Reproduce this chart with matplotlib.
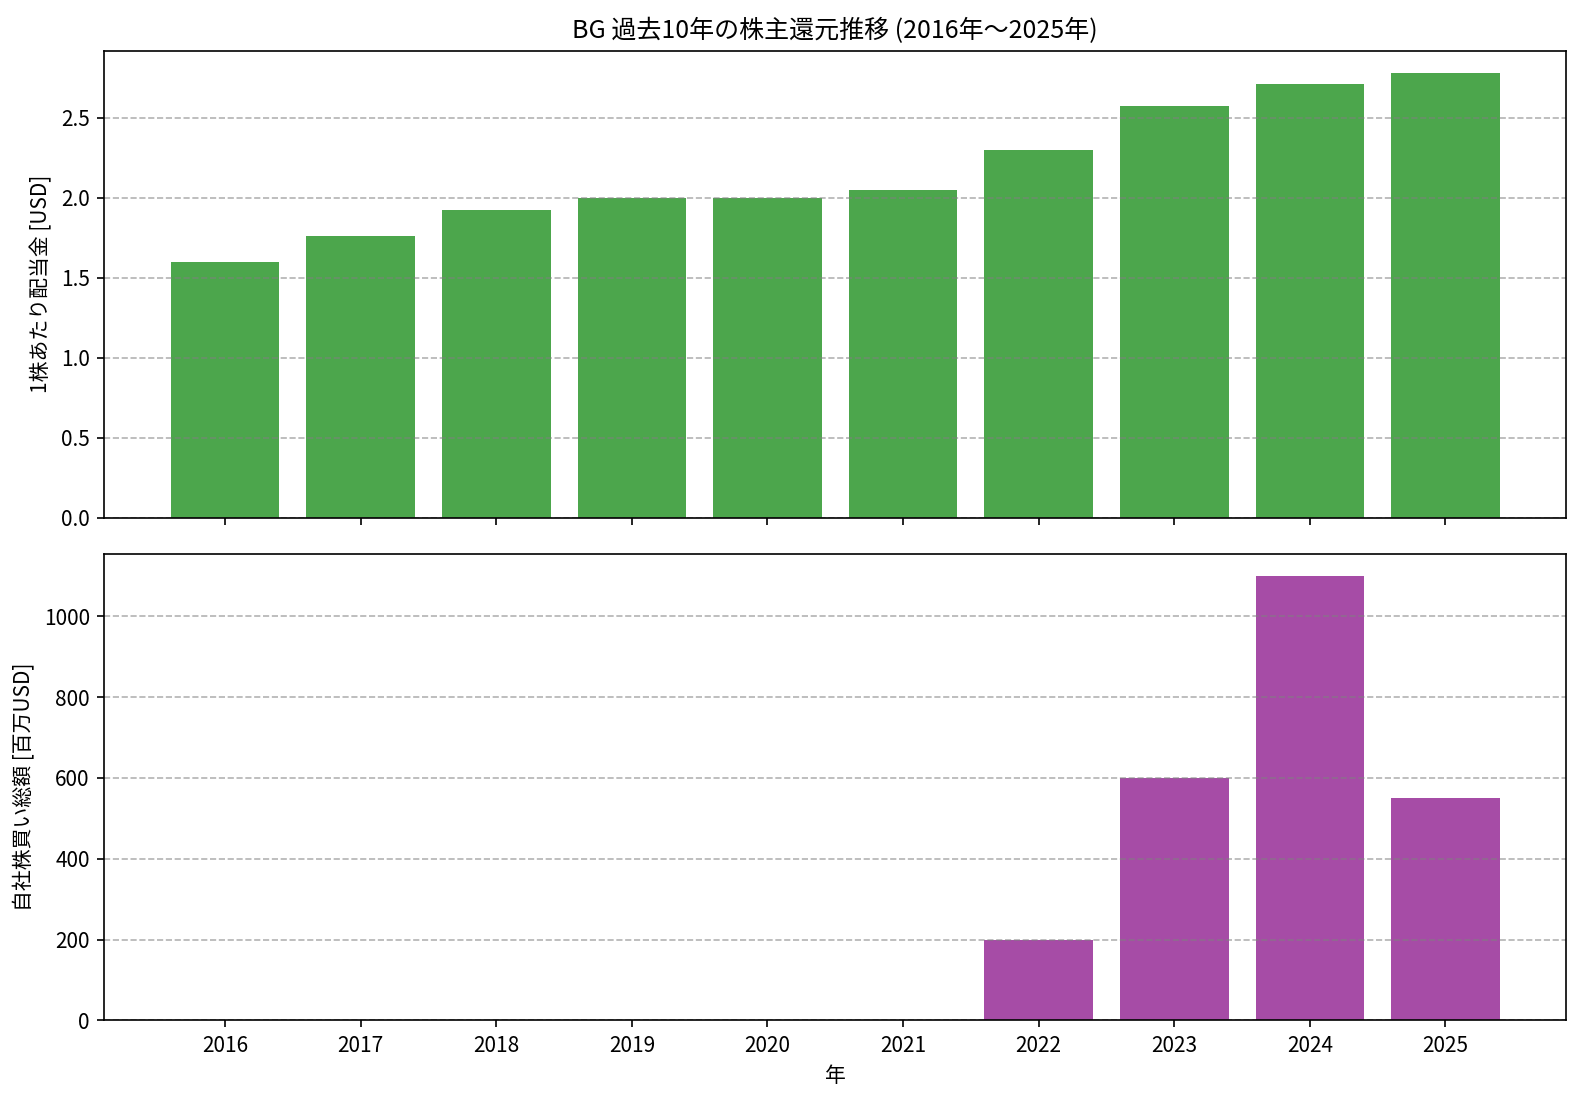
import matplotlib
matplotlib.use("Agg")
import matplotlib.pyplot as plt
import numpy as np

plt.rcParams["font.family"] = ["Noto Sans CJK JP", "DejaVu Sans"]

years = [2016, 2017, 2018, 2019, 2020, 2021, 2022, 2023, 2024, 2025]
dividends = [1.60, 1.76, 1.92, 2.00, 2.00, 2.05, 2.30, 2.575, 2.71, 2.78]
buybacks = [0, 0, 0, 0, 0, 0, 200, 600, 1100, 550]

fig, (ax1, ax2) = plt.subplots(2, 1, figsize=(1582 / 150, 1102 / 150), dpi=150, sharex=True)

ax1.bar(years, dividends, color="green", alpha=0.7)
ax1.set_ylabel("1株あたり配当金 [USD]")
ax1.set_title("BG 過去10年の株主還元推移 (2016年～2025年)", fontsize=12)
ax1.grid(axis="y", linestyle="--", color="gray", alpha=0.6)

ax2.bar(years, buybacks, color="purple", alpha=0.7)
ax2.set_ylabel("自社株買い総額 [百万USD]")
ax2.set_xlabel("年")
ax2.grid(axis="y", linestyle="--", color="gray", alpha=0.6)
ax2.set_xticks(years)

fig.subplots_adjust(left=0.066, right=0.99, top=0.954, bottom=0.074, hspace=0.077)
plt.savefig("out.png")
